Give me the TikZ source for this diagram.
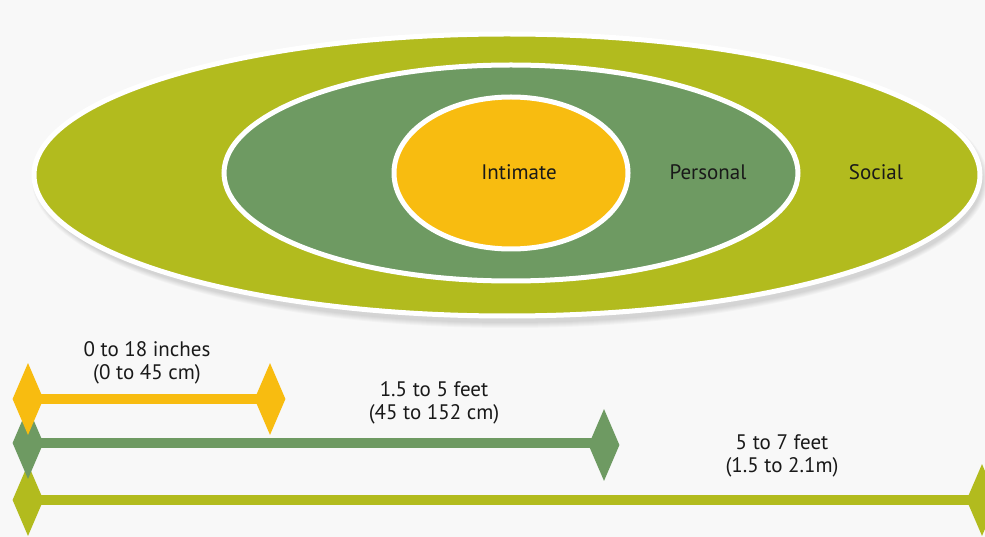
\documentclass[tikz,border=0pt]{standalone}
\usepackage{fontspec}
\setmainfont{PT Sans}
\usetikzlibrary{shapes.geometric}
\definecolor{olive}{HTML}{B2BB1E}
\definecolor{sage}{HTML}{6E9A62}
\definecolor{amber}{HTML}{F8BC10}
\definecolor{bg}{HTML}{F8F8F8}
\tikzset{
  zone/.style={draw=white, line width=5pt},
  lbl/.style={font=\fontsize{21}{23}\selectfont, text=black!90, align=center, inner sep=0pt},
  tip/.style={diamond, fill=#1, draw=none, inner sep=0pt, minimum width=31pt, minimum height=72pt},
  bar/.style={#1, line width=10pt}
}
\begin{document}
\begin{tikzpicture}[x=1pt,y=-1pt]
\fill[bg] (0,0) rectangle (985,537);
\useasboundingbox (0,0) rectangle (985,537);
% shadow
\foreach \i in {1,...,6}{
  \fill[black, opacity=0.025] (510,180) ellipse ({472+\i} and {142+\i});
}
% ellipses
\draw[zone, fill=olive] (507,175) ellipse (473 and 141);
\draw[zone, fill=sage] (511,173) ellipse (287 and 108);
\draw[zone, fill=amber] (511,173) ellipse (117 and 76);
\node[lbl] (intimate) at (519,172) {Intimate};
\node[lbl] (personal) at (708,172) {Personal};
\node[lbl] (social) at (876,172) {Social};
% olive bar
\node[tip=olive] (sL) at (28,500) {};
\node[tip=olive] (sR) at (982,500) {};
\draw[bar=olive] (sL.center) -- (sR.center);
% green bar
\node[tip=sage] (pL) at (28,443) {};
\node[tip=sage] (pR) at (604,445) {};
\draw[bar=sage] (pL.center) -- (pR.center |- pL.center);
% yellow bar
\node[tip=amber] (iL) at (28,399) {};
\node[tip=amber] (iR) at (270,399) {};
\draw[bar=amber] (iL.center) -- (iR.center);
% labels
\node[lbl] (il) at (147,363) {0 to 18 inches\\(0 to 45 cm)};
\node[lbl] (pl) at (434,403) {1.5 to 5 feet\\(45 to 152 cm)};
\node[lbl] (sl) at (782,456) {5 to 7 feet\\(1.5 to 2.1m)};
\end{tikzpicture}
\end{document}
